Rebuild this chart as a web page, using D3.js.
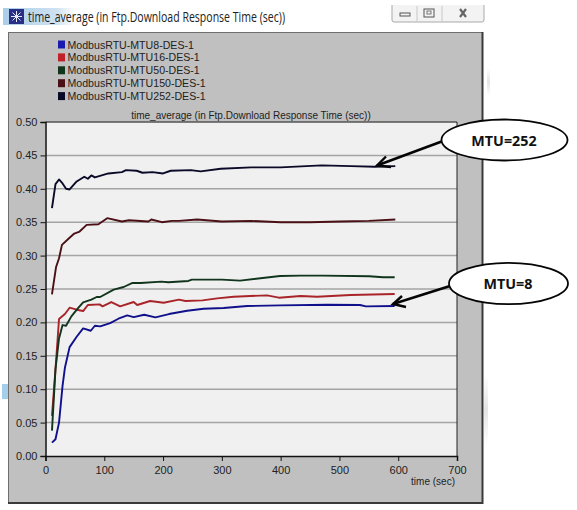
<!DOCTYPE html>
<html><head><meta charset="utf-8">
<style>html,body{margin:0;padding:0;background:#fff}svg{display:block}text{font-family:"Liberation Sans",Arial,sans-serif}</style>
<script src="https://cdn.jsdelivr.net/npm/d3@7"></script></head><body>
<script>
const windowTitle = "time_average (in Ftp.Download Response Time (sec))";
const xTicks = [0,100,200,300,400,500,600,700];
const yTicks = [0,0.05,0.10,0.15,0.20,0.25,0.30,0.35,0.40,0.45,0.50];
const seriesNames = ["ModbusRTU-MTU8-DES-1","ModbusRTU-MTU16-DES-1","ModbusRTU-MTU50-DES-1","ModbusRTU-MTU150-DES-1","ModbusRTU-MTU252-DES-1"];
const seriesColors = ["#10108c","#a82428","#10351c","#4a1016","#0a0a28"];
const legendColors = ["#1a1ab0","#c02028","#10351c","#4a1016","#0a0a28"];
const mtu8T = [11,17,23,29,33,41,53,64,77,84,93,110,124,139,150,168,187,210,241,269,303,343,399,479,535,545,594];
const mtu8V = [.02,.025,.05,.105,.132,.163,.1785,.191,.1875,.195,.194,.199,.2055,.2105,.208,.2115,.2075,.2125,.2175,.2205,.2215,.2245,.2255,.2265,.226,.224,.2245];
const mtu16T = [11,17,23,33,41,53,64,72,92,97,112,127,150,156,178,201,227,238,267,292,320,377,397,434,462,519,594];
const mtu16V = [.06,.13,.205,.2125,.222,.219,.217,.226,.227,.224,.2305,.224,.2305,.226,.232,.2295,.234,.232,.233,.236,.2385,.2405,.237,.2395,.2385,.241,.2425];
const mtu50T = [11,17,23,29,35,44,55,64,78,87,93,116,133,148,162,197,209,243,249,300,331,399,433,472,551,574,594];
const mtu50V = [.038,.13,.176,.196,.195,.209,.221,.230,.234,.238,.238,.249,.253,.259,.259,.261,.260,.262,.264,.264,.2625,.2695,.270,.270,.269,.2675,.2675];
const mtu150T = [11,18,23,28,40,49,58,70,90,105,130,142,175,180,198,215,227,258,300,350,400,450,500,550,595];
const mtu150V = [.242,.283,.296,.316,.326,.333,.336,.346,.347,.356,.351,.353,.351,.354,.350,.352,.352,.354,.351,.352,.350,.350,.351,.352,.354];
const mtu252T = [11,17,23,29,35,41,47,53,66,72,78,84,107,130,137,155,165,182,200,213,247,264,298,350,400,470,520,560,595];
const mtu252V = [.371,.407,.414,.408,.40,.399,.405,.411,.418,.415,.42,.417,.423,.425,.428,.427,.424,.425,.423,.427,.428,.426,.430,.432,.432,.435,.434,.433,.434];
const seriesT = [mtu8T,mtu16T,mtu50T,mtu150T,mtu252T];
const seriesV = [mtu8V,mtu16V,mtu50V,mtu150V,mtu252V];
const callouts = [
  {label:"MTU=252",cx:504.5,cy:140,rx:63,ry:20.5,from:[443,141],tip:[377,165.5],b1:[386,156.5],b2:[391,167]},
  {label:"MTU=8",cx:508.5,cy:283.5,rx:59.5,ry:20.7,from:[450,286],tip:[393,304],b1:[402,296],b2:[406,307]}
];

const svg = d3.select("body").append("svg").attr("width",577).attr("height",510);
const x = d3.scaleLinear().domain([0,700]).range([45.5,457]);
const y = d3.scaleLinear().domain([0,0.5]).range([456,122]);

// window chrome
const defs = svg.append("defs");
const g = defs.append("linearGradient").attr("id","tb");
g.append("stop").attr("offset","0").attr("stop-color","#a9cdea");
g.append("stop").attr("offset","0.75").attr("stop-color","#cfe2f1");
g.append("stop").attr("offset","1").attr("stop-color","#ffffff");
const fade = defs.append("linearGradient").attr("id","fd").attr("x2",0).attr("y2",1);
fade.append("stop").attr("offset","0").attr("stop-color","#ffffff");
fade.append("stop").attr("offset","0.5").attr("stop-color","#e4e4e4");
fade.append("stop").attr("offset","1").attr("stop-color","#ffffff");
svg.append("rect").attr("x",3).attr("y",8).attr("width",72).attr("height",17).attr("fill","url(#tb)");
svg.append("rect").attr("x",9).attr("y",9).attr("width",15).attr("height",15).attr("fill","#2a2f86");
svg.append("path").attr("d","M16.5 11V22M11 16.5H22M12.5 12.5L20.5 20.5M20.5 12.5L12.5 20.5").attr("stroke","#e8ecff").attr("stroke-width",1);
svg.append("text").attr("x",28).attr("y",22).attr("font-size",14).attr("fill","#222")
  .style("font-family","'Open Sans'").attr("textLength",257).attr("lengthAdjust","spacingAndGlyphs").text(windowTitle);
svg.append("path").attr("d","M392 5V20Q392 22 394 22H482Q484 22 484 20V5").attr("fill","#f3f3f3").attr("stroke","#a9a9a9");
svg.append("path").attr("d","M417 6V21M442 6V21").attr("stroke","#c8c8c8");
svg.append("rect").attr("x",400).attr("y",13).attr("width",10).attr("height",3).attr("fill","none").attr("stroke","#555");
svg.append("rect").attr("x",424).attr("y",9).attr("width",10).attr("height",8).attr("fill","none").attr("stroke","#555");
svg.append("rect").attr("x",427).attr("y",11).attr("width",4).attr("height",3).attr("fill","none").attr("stroke","#777");
svg.append("path").attr("d","M460 9L466 17M466 9L460 17").attr("stroke","#666").attr("stroke-width",2.2);

// faint screenshot remnants
svg.append("rect").attr("x",487).attr("y",68).attr("width",3).attr("height",28).attr("fill","url(#fd)");
svg.append("rect").attr("x",484).attr("y",375).attr("width",4).attr("height",70).attr("fill","url(#fd)");
svg.append("rect").attr("x",2).attr("y",384).attr("width",6).attr("height",15).attr("fill","#a5cfe9");

// panel
svg.append("rect").attr("x",8.5).attr("y",32.5).attr("width",474).attr("height",470).attr("fill","#c0c0c0").attr("stroke","#6e6e6e");
svg.append("path").attr("d","M482.5 32V503H8").attr("fill","none").attr("stroke","#3a3a3a").attr("stroke-width",2);

// plot area
svg.append("rect").attr("x",x(0)).attr("y",y(.5)).attr("width",x(700)-x(0)).attr("height",y(0)-y(.5)).attr("fill","#f0f0f0");
svg.append("g").selectAll("line").data(yTicks.slice(1,-1)).join("line")
  .attr("x1",x(0)).attr("x2",x(700)).attr("y1",d=>y(d)).attr("y2",d=>y(d)).attr("stroke","#a4a4a4").attr("stroke-width",1.5);
svg.append("path").attr("d",`M${x(0)} ${y(.5)}H${x(700)}`).attr("stroke","#555").attr("stroke-width",1.5);
svg.append("path").attr("d",`M${x(700)} ${y(.5)}V${y(0)}`).attr("stroke","#222").attr("stroke-width",1);

const ax = svg.append("g").attr("transform",`translate(0,${y(0)})`).call(d3.axisBottom(x).tickValues(xTicks).tickSize(5).tickFormat(d3.format("d")));
const ay = svg.append("g").attr("transform",`translate(${x(0)},0)`).call(d3.axisLeft(y).tickValues(yTicks).tickSize(5).tickFormat(d3.format(".2f")));
[ax,ay].forEach(a=>{a.selectAll("path,line").attr("stroke","#111");a.select("path").attr("stroke-width",1.5);
  a.selectAll("text").attr("fill","#222").style("font-size","11px").style("font-family","'Liberation Sans'");});
ax.selectAll("text").attr("dy","0.9em");

// plot and window text
svg.append("text").attr("x",251).attr("y",118.5).attr("text-anchor","middle").attr("font-size",10).attr("fill","#222").text(windowTitle);
svg.append("text").attr("x",455).attr("y",485).attr("text-anchor","end").attr("font-size",10).attr("fill","#222").text("time (sec)");

// legend
const leg = svg.append("g").selectAll("g").data(seriesNames).join("g").attr("transform",(d,i)=>`translate(58,${44.5+i*12.9})`);
leg.append("rect").attr("x",0).attr("y",-4).attr("width",7).attr("height",8).attr("fill",(d,i)=>legendColors[i]);
leg.append("text").attr("x",9.5).attr("y",4).attr("font-size",10.6).attr("fill","#222").text(d=>d);

// series
const line = d3.line().x(d=>x(d[0])).y(d=>y(d[1]));
svg.append("g").selectAll("path").data(seriesNames.map((n,i)=>seriesT[i].map((t,j)=>[t,seriesV[i][j]]))).join("path")
  .attr("d",line).attr("fill","none").attr("stroke",(d,i)=>seriesColors[i]).attr("stroke-width",1.9).attr("stroke-linejoin","round");

// callouts
callouts.forEach(c=>{
  svg.append("path").attr("d",`M${c.from}L${c.tip}`).attr("stroke","#050505").attr("stroke-width",2.6);
  svg.append("path").attr("d",`M${c.b1}L${c.tip}L${c.b2}`).attr("fill","none").attr("stroke","#050505").attr("stroke-width",2.4);
  svg.append("ellipse").attr("cx",c.cx).attr("cy",c.cy).attr("rx",c.rx).attr("ry",c.ry).attr("fill","#fff").attr("stroke","#050505").attr("stroke-width",1.8);
  svg.append("text").attr("x",c.cx-.5).attr("y",c.cy+5.5).attr("text-anchor","middle").attr("font-size",14.3).attr("font-weight","bold").attr("fill","#111")
    .style("font-family","'Open Sans'").text(c.label);
});
</script></body></html>
